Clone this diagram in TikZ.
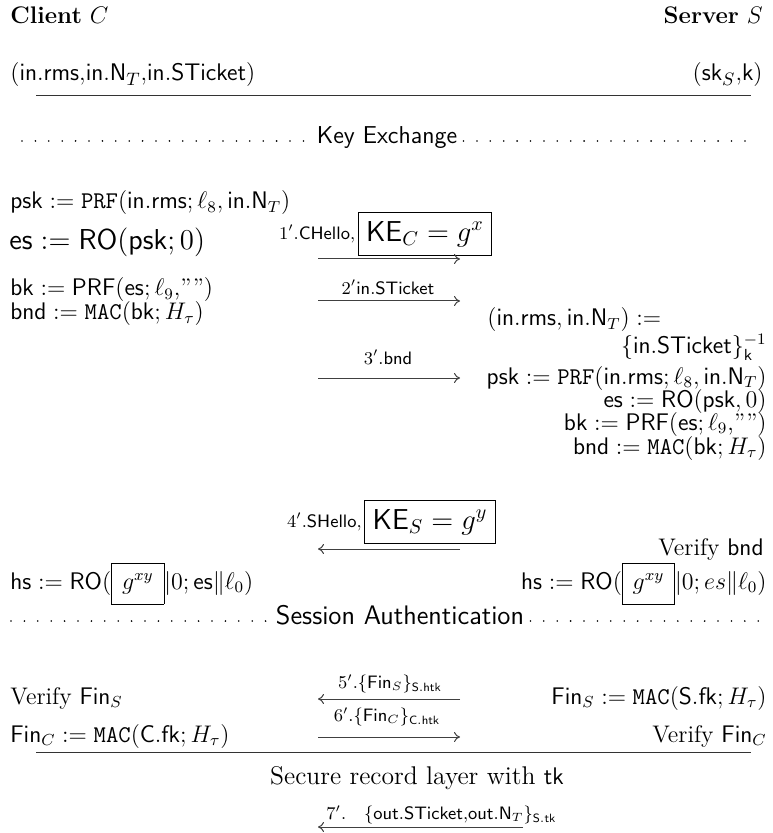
\documentclass[tikz,border=0pt]{standalone}
\usepackage{amsmath}
\usetikzlibrary{arrows.meta}
\newcommand{\sfv}[1]{\mathsf{#1}}
\begin{document}
\begin{tikzpicture}[x=0.5pt,y=-0.5pt,
  txt/.style={inner sep=0pt, font=\fontsize{12}{14}\selectfont, text height=9pt, text depth=3pt},
  lbl/.style={inner sep=0pt, font=\fontsize{9}{11}\selectfont},
  kebox/.style={draw, inner xsep=4pt, inner ysep=4.5pt, line width=0.5pt, font=\fontsize{14}{16}\selectfont},
  msg/.style={-{To[length=3pt,width=5pt]}, black!75, line width=0.5pt},
  rule/.style={black!80, line width=0.5pt},
  dots/.style={line width=0.9pt, line cap=round, dash pattern=on 0pt off 6.7pt}]
\useasboundingbox (0,0) rectangle (772,833);
\setlength{\fboxsep}{5pt}
% header
\node[txt, anchor=west] (cl) at (10,18) {\textbf{Client} $C$};
\node[txt, anchor=east] (sv) at (763,18) {\textbf{Server} $S$};
\node[txt, anchor=west, font=\fontsize{13}{15}\selectfont] (cin) at (10,75) {$(\sfv{in.rms}{,}\sfv{in.N}_T{,}\sfv{in.STicket})$};
\node[txt, anchor=east, font=\fontsize{13}{15}\selectfont] (sin) at (763,75) {$(\sfv{sk}_S{,}\sfv{k})$};
\coordinate (l1a) at (36,96); \coordinate (l1b) at (751,96);
\draw[rule] (l1a) -- (l1b);
% key exchange separator
\node[txt, font=\fontsize{12.2}{14}\sffamily] (ke) at (387,138) {Key Exchange};
\coordinate (d1a) at (22,141); \coordinate (d1b) at (752,141);
\draw[dots] (d1a) -- (ke.west |- d1a);
\draw[dots] (ke.east |- d1b) ++(6,0) -- (d1b);
% client computations
\node[txt, anchor=west] (c1) at (10,203) {$\sfv{psk} := \mathtt{PRF}(\sfv{in.rms};\ell_8,\sfv{in.N}_T)$};
\node[txt, anchor=west, font=\fontsize{13.5}{15}\selectfont] (c2) at (9,244) {$\sfv{es} := \sfv{RO}(\sfv{psk};0)$};
\node[txt, anchor=west] (c3) at (10,290) {$\sfv{bk} := \sfv{PRF}(\sfv{es};\ell_9\text{,''''})$};
\node[txt, anchor=west] (c4) at (10,314) {$\sfv{bnd} := \mathtt{MAC}(\sfv{bk};H_\tau)$};
% message 1
\node[kebox] (b1) at (425,234) {$\sfv{KE}_C = g^x$};
\node[lbl, anchor=east] (m1) at ([xshift=-1pt]b1.west) {$1'.\sfv{CHello},$};
\coordinate (a1s) at (318,259); \coordinate (a1e) at (460,259);
\draw[msg] (a1s) -- (a1e);
% message 2
\node[lbl] (m2) at (388,287) {$2'\sfv{in.STicket}$};
\coordinate (a2s) at (318,301); \coordinate (a2e) at (460,301);
\draw[msg] (a2s) -- (a2e);
% message 3
\node[lbl] (m3) at (388,357) {$3'.\sfv{bnd}$};
\coordinate (a3s) at (318,378); \coordinate (a3e) at (460,378);
\draw[msg] (a3s) -- (a3e);
% server computations
\node[txt, anchor=west] (s0) at (487,320) {$(\sfv{in.rms},\sfv{in.N}_T) :=$};
\node[txt, anchor=east] (s1) at (767,348) {$\{\sfv{in.STicket}\}^{-1}_{\sfv{k}}$};
\node[txt, anchor=east] (s2) at (767,378) {$\sfv{psk} := \mathtt{PRF}(\sfv{in.rms};\ell_8,\sfv{in.N}_T)$};
\node[txt, anchor=east] (s3) at (767,401) {$\sfv{es} := \sfv{RO}(\sfv{psk},0)$};
\node[txt, anchor=east] (s4) at (767,424) {$\sfv{bk} := \sfv{PRF}(\sfv{es};\ell_9\text{,''''})$};
\node[txt, anchor=east] (s5) at (767,448) {$\sfv{bnd} := \mathtt{MAC}(\sfv{bk};H_\tau)$};
% message 4
\node[kebox] (b4) at (430,522) {$\sfv{KE}_S = g^y$};
\node[lbl, anchor=east] (m4) at ([xshift=-1pt]b4.west) {$4'.\sfv{SHello},$};
\coordinate (a4s) at (460,549); \coordinate (a4e) at (318,549);
\draw[msg] (a4s) -- (a4e);
\node[txt, anchor=east] (s6) at (764,549) {Verify $\sfv{bnd}$};
% handshake secret
\node[txt, anchor=west] (c5) at (10,583) {$\sfv{hs} := \sfv{RO}(\fbox{$g^{xy}$}|0;\sfv{es}\|\ell_0)$};
\node[txt, anchor=east] (s7) at (767,583) {$\sfv{hs} := \sfv{RO}(\fbox{$g^{xy}$}|0;es\|\ell_0)$};
% session authentication separator
\node[txt, font=\fontsize{13.4}{15}\sffamily] (sa) at (400,618) {Session Authentication};
\coordinate (d2a) at (11,621); \coordinate (d2b) at (767,621);
\draw[dots] (d2a) -- (sa.west |- d2a);
\draw[dots] (sa.east |- d2b) ++(6,0) -- (d2b);
% finished messages
\node[txt, anchor=west] (c6) at (10,698) {Verify $\sfv{Fin}_S$};
\node[txt, anchor=east] (s8) at (767,698) {$\sfv{Fin}_S := \mathtt{MAC}(\sfv{S.fk};H_\tau)$};
\node[lbl] (m5) at (390,684) {$5'.\{\sfv{Fin}_S\}_{\sfv{S.htk}}$};
\coordinate (a5s) at (460,699); \coordinate (a5e) at (318,699);
\draw[msg] (a5s) -- (a5e);
\node[txt, anchor=west] (c7) at (10,736) {$\sfv{Fin}_C := \mathtt{MAC}(\sfv{C.fk};H_\tau)$};
\node[txt, anchor=east] (s9) at (767,736) {Verify $\sfv{Fin}_C$};
\node[lbl] (m6) at (387,717) {$6'.\{\sfv{Fin}_C\}_{\sfv{C.htk}}$};
\coordinate (a6s) at (318,737); \coordinate (a6e) at (460,737);
\draw[msg] (a6s) -- (a6e);
\coordinate (l2a) at (36,752); \coordinate (l2b) at (751,752);
\draw[rule] (l2a) -- (l2b);
\node[inner sep=0pt, font=\fontsize{12.8}{15}\selectfont] (rec) at (417,778) {Secure record layer with $\sfv{tk}$};
% message 7
\node[lbl, anchor=west] (m7) at (326,815) {$7'.\quad\{\sfv{out.STicket}{,}\sfv{out.N}_T\}_{\sfv{S.tk}}$};
\coordinate (a7s) at (523,827); \coordinate (a7e) at (318,827);
\draw[msg] (a7s) -- (a7e);
\end{tikzpicture}
\end{document}
